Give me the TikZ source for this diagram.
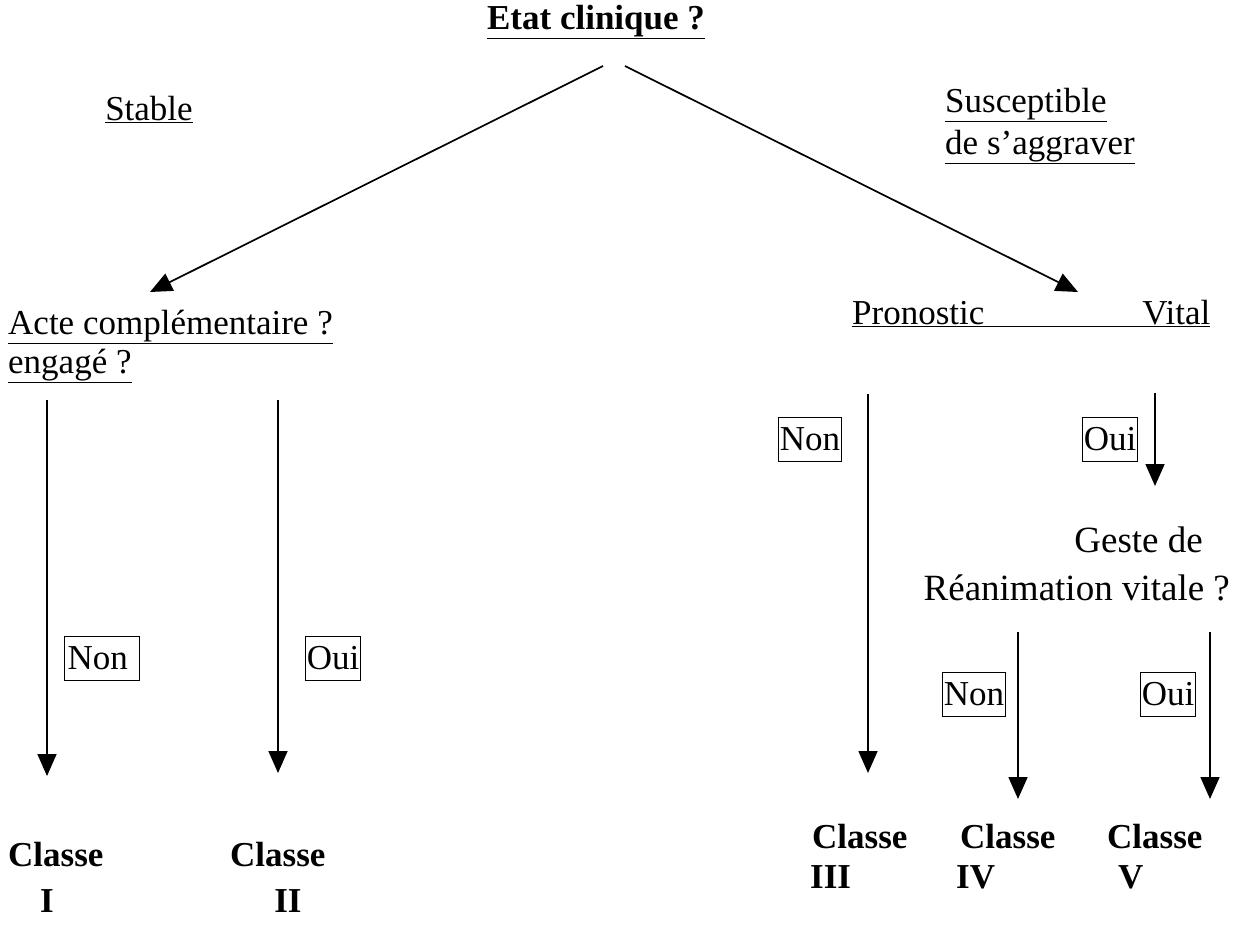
\documentclass[tikz,border=0pt]{standalone}
\usepackage{fontspec}
\setmainfont{Liberation Serif}
\usetikzlibrary{arrows.meta}
\begin{document}
\begin{tikzpicture}[x=1pt,y=-1pt,
  txt/.style={inner sep=0pt, font=\fontsize{35}{40}\selectfont},
  gtxt/.style={inner sep=0pt, font=\fontsize{37}{42}\selectfont},
  btxt/.style={inner sep=0pt, font=\fontsize{35}{40}\selectfont\bfseries},
  lbl/.style={draw, line width=0.8pt, inner xsep=1.5pt, inner ysep=0pt, minimum height=44pt, font=\fontsize{35}{40}\selectfont},
  arr/.style={line width=1.7pt, -{Triangle[width=19pt,length=22pt]}}]
\useasboundingbox (0,0) rectangle (1233,929);
% texts
\node[btxt, anchor=base] (title) at (596,29) {\underline{Etat clinique ?}};
\node[txt, anchor=base] (stable) at (149,120) {\underline{Stable}};
\node[txt, anchor=base west] (susc1) at (945,112) {\underline{Susceptible}};
\node[txt, anchor=base west] (susc2) at (945,154) {\underline{de s’aggraver}};
\node[txt, anchor=base west] (acte1) at (8,334) {\underline{Acte complémentaire ?}};
\node[txt, anchor=base west] (acte2) at (8,373) {\underline{engagé ?}};
\node[txt, anchor=base west] (prono) at (852,324) {\underline{Pronostic\hspace{158pt}Vital}};
\node[gtxt, anchor=base east] (geste1) at (1203,552) {Geste de};
\node[gtxt, anchor=base east] (geste2) at (1230,600) {Réanimation vitale ?};
% classes
\node[btxt, anchor=base west] (c1) at (8,866) {Classe};
\node[btxt, anchor=base] (n1) at (47,912) {I};
\node[btxt, anchor=base west] (c2) at (230,866) {Classe};
\node[btxt, anchor=base] (n2) at (288,912) {II};
\node[btxt, anchor=base west] (c3) at (812,848) {Classe};
\node[btxt, anchor=base west] (n3) at (810,888) {III};
\node[btxt, anchor=base west] (c4) at (960,848) {Classe};
\node[btxt, anchor=base west] (n4) at (956,888) {IV};
\node[btxt, anchor=base west] (c5) at (1107,848) {Classe};
\node[btxt, anchor=base west] (n5) at (1118,888) {V};
% boxed labels
\node[lbl, minimum width=75pt, text width=68pt, align=left] (nonL) at (101.5,658) {Non};
\node[lbl] (ouiL) at (333,658) {Oui};
\node[lbl] (nonR) at (810,439) {Non};
\node[lbl] (ouiR) at (1110,439) {Oui};
\node[lbl] (nonR2) at (974,694) {Non};
\node[lbl] (ouiR2) at (1168,694) {Oui};
% coordinates
\coordinate (tL) at (603,66);
\coordinate (tR) at (625,66);
\coordinate (eL) at (150,292);
\coordinate (eR) at (1078,292);
\coordinate (a1s) at (47,400);  \coordinate (a1e) at (47,776);
\coordinate (a2s) at (278,400); \coordinate (a2e) at (278,773);
\coordinate (a3s) at (868,394); \coordinate (a3e) at (868,773);
\coordinate (a4s) at (1155,393); \coordinate (a4e) at (1155,486);
\coordinate (a5s) at (1018,632); \coordinate (a5e) at (1018,799);
\coordinate (a6s) at (1210,632); \coordinate (a6e) at (1210,799);
% connectors
\draw[arr] (tL) -- (eL);
\draw[arr] (tR) -- (eR);
\draw[arr] (a1s) -- (a1e);
\draw[arr] (a2s) -- (a2e);
\draw[arr] (a3s) -- (a3e);
\draw[arr] (a4s) -- (a4e);
\draw[arr] (a5s) -- (a5e);
\draw[arr] (a6s) -- (a6e);
\end{tikzpicture}
\end{document}
